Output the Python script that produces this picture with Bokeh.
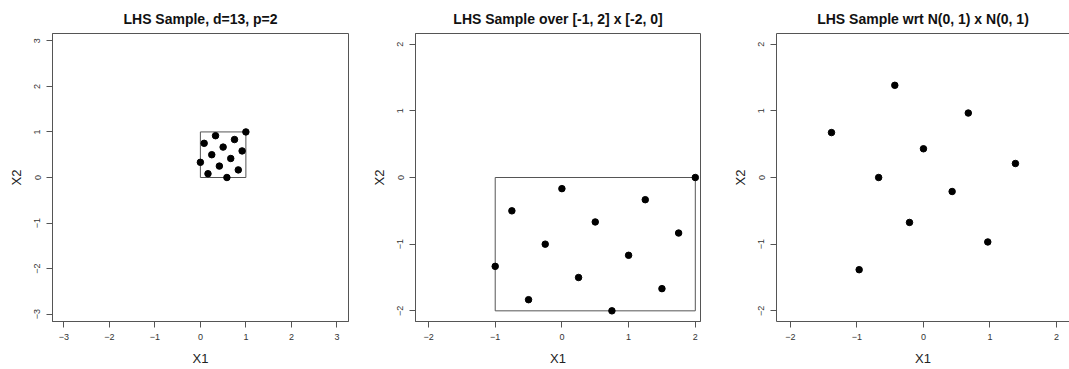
from bokeh.plotting import figure
from bokeh.layouts import row
from bokeh.models import FixedTicker, Range1d, LinearAxis
from bokeh.embed import file_html
from bokeh.resources import INLINE

# Latin hypercube design, 13 points in 2 dimensions, on the unit square
unit_x1 = [0.000, 0.083, 0.167, 0.250, 0.333, 0.417, 0.500,
           0.583, 0.667, 0.750, 0.833, 0.917, 1.000]
unit_x2 = [0.333, 0.750, 0.083, 0.500, 0.917, 0.250, 0.667,
           0.000, 0.417, 0.833, 0.167, 0.583, 1.000]

# same design rescaled to [-1, 2] x [-2, 0]
box_x1 = [-1.00, -0.75, -0.50, -0.25, 0.00, 0.25, 0.50,
          0.75, 1.00, 1.25, 1.50, 1.75, 2.00]
box_x2 = [-1.333, -0.500, -1.833, -1.000, -0.167, -1.500, -0.667,
          -2.000, -1.167, -0.333, -1.667, -0.833, 0.000]

# same design mapped through the standard normal quantile (finite points only)
norm_x1 = [-1.383, -0.967, -0.674, -0.431, -0.210, 0.000,
           0.431, 0.674, 0.967, 1.383]
norm_x2 = [0.674, -1.383, 0.000, 1.383, -0.674, 0.431,
           -0.210, 0.967, -0.967, 0.210]

# sampling regions drawn as rectangles
unit_region = dict(left=[0.0], right=[1.0], bottom=[0.0], top=[1.0])
box_region = dict(left=[-1.0], right=[2.0], bottom=[-2.0], top=[0.0])

titles = ["LHS Sample, d=13, p=2",
          "LHS Sample over [-1, 2] x [-2, 0]",
          "LHS Sample wrt N(0, 1) x N(0, 1)"]
ticks_wide = [-3, -2, -1, 0, 1, 2, 3]
ticks_narrow = [-2, -1, 0, 1, 2]

FONT = "Liberation Sans"
EDGE = "#555555"


def style_axis(ax, ticks, vertical=False):
    ax.ticker = FixedTicker(ticks=ticks)
    ax.axis_line_color = EDGE
    ax.axis_line_width = 1
    ax.major_tick_line_color = EDGE
    ax.major_tick_out = 6
    ax.major_tick_in = 0
    ax.minor_tick_line_color = None
    ax.major_label_text_font = FONT
    ax.major_label_text_font_size = "9px"
    ax.major_label_text_color = "#333333"
    ax.major_label_standoff = 6
    ax.axis_label_text_font = FONT
    ax.axis_label_text_font_size = "13px"
    ax.axis_label_text_font_style = "normal"
    ax.axis_label_text_color = "#222222"
    ax.axis_label_standoff = 8
    if vertical:
        ax.major_label_orientation = "vertical"


def panel(title, width, xr, yr, border_left, border_right, ticks, open_right=False):
    p = figure(width=width, height=369, title=title,
               x_range=Range1d(*xr), y_range=Range1d(*yr),
               output_backend="svg", toolbar_location=None,
               min_border_left=border_left, min_border_right=border_right,
               min_border_top=33, min_border_bottom=48,
               x_axis_label="X1", y_axis_label="X2")
    p.grid.visible = False
    p.background_fill_color = "white"
    p.border_fill_color = "white"
    p.title.text_font = FONT
    p.title.text_font_size = "14px"
    p.title.text_font_style = "bold"
    p.title.text_color = "#111111"
    p.title.align = "center"
    p.title.standoff = 13
    style_axis(p.xaxis[0], ticks)
    style_axis(p.yaxis[0], ticks, vertical=True)
    if open_right:
        # frame runs past the page edge: draw only top, left and bottom edges
        p.outline_line_color = None
        top = LinearAxis(ticker=FixedTicker(ticks=[]), axis_line_color=EDGE,
                         major_tick_line_color=None, minor_tick_line_color=None,
                         major_label_text_font_size="0px")
        p.add_layout(top, "above")
    else:
        p.outline_line_color = EDGE
        p.outline_line_width = 1
    return p


p1 = panel(titles[0], 356, (-3.25, 3.255), (-3.16, 3.16), 52, 8, ticks_wide)
p1.quad(**unit_region, fill_color=None, line_color=EDGE, line_width=1)
p1.scatter(unit_x1, unit_x2, size=6.5, color="black")

p2 = panel(titles[1], 356, (-2.195, 2.078), (-2.16, 2.16), 59, 12, ticks_narrow)
p2.quad(**box_region, fill_color=None, line_color=EDGE, line_width=1)
p2.scatter(box_x1, box_x2, size=6.5, color="black")

p3 = panel(titles[2], 357, (-2.21, 2.196), (-2.16, 2.16), 64, 0, ticks_narrow,
           open_right=True)
p3.scatter(norm_x1, norm_x2, size=6.5, color="black")

layout = row(p1, p2, p3, spacing=0)

open("out.html", "w").write(file_html(layout, INLINE))
